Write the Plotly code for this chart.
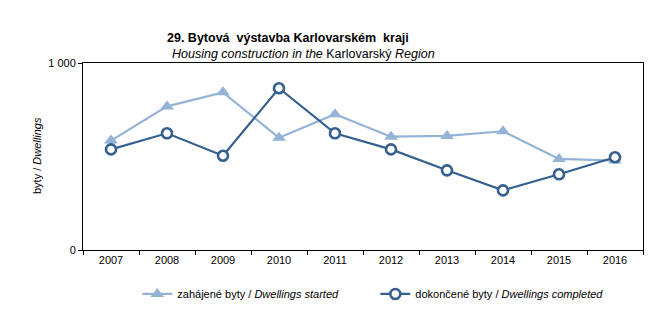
import plotly.graph_objects as go

# Housing construction in the Karlovarský Region, 2007–2016
years = ["2007", "2008", "2009", "2010", "2011", "2012", "2013", "2014", "2015", "2016"]
started = [585, 768, 843, 600, 726, 606, 610, 635, 487, 478]
completed = [538, 624, 504, 865, 624, 538, 426, 319, 405, 496]

y_tickvals = [0, 1000]
y_ticktext = ["0", "1 000"]

FONT = "Liberation Sans, Arial, sans-serif"
LIGHT = "#95B3D7"
DARK = "#35608F"

fig = go.Figure()
fig.add_trace(go.Scatter(
    x=years, y=started, mode="lines+markers",
    name="zahájené byty / <i>Dwellings started</i>",
    line=dict(color=LIGHT, width=2.2),
    marker=dict(symbol="triangle-up", size=12, color=LIGHT),
))
fig.add_trace(go.Scatter(
    x=years, y=completed, mode="lines+markers",
    name="dokončené byty / <i>Dwellings completed</i>",
    line=dict(color=DARK, width=2.2),
    marker=dict(symbol="circle", size=10, color="white",
                line=dict(color=DARK, width=2.6)),
))

fig.update_layout(
    width=667, height=325,
    margin=dict(l=83, r=24, t=63, b=75, autoexpand=False),
    paper_bgcolor="white", plot_bgcolor="white",
    font=dict(family=FONT, size=11, color="black"),
    showlegend=True,
    legend=dict(
        orientation="h", x=0.097, xanchor="left", y=-0.235, yanchor="middle",
        font=dict(family=FONT, size=11, color="black"),
        itemwidth=30, entrywidth=193, entrywidthmode="pixels",
        bgcolor="rgba(0,0,0,0)",
    ),
    xaxis=dict(
        type="category", tickson="boundaries", automargin=False,
        range=[-0.5, len(years) - 0.5],
        showline=True, linecolor="black", linewidth=1, mirror=True,
        ticks="outside", ticklen=4, tickcolor="black",
        showgrid=False, zeroline=False,
        tickfont=dict(family=FONT, size=11),
    ),
    yaxis=dict(
        range=[0, 1000], tickvals=y_tickvals, ticktext=y_ticktext, automargin=False,
        showline=True, linecolor="black", linewidth=1, mirror=True,
        ticks="outside", ticklen=4, tickcolor="black",
        showgrid=False, zeroline=False,
        tickfont=dict(family=FONT, size=11),
    ),
    annotations=[
        dict(text="<b>29. Bytová  výstavba Karlovarském  kraji</b>",
             xref="paper", yref="paper", x=(165 - 83) / 560, y=1 + (63 - 38) / 187,
             xanchor="left", yanchor="middle", showarrow=False,
             font=dict(family=FONT, size=12.5)),
        dict(text="<i>Housing construction in the</i> Karlovarský <i>Region</i>",
             xref="paper", yref="paper", x=(170 - 83) / 560, y=1 + (63 - 54) / 187,
             xanchor="left", yanchor="middle", showarrow=False,
             font=dict(family=FONT, size=12.5)),
        dict(text="byty / <i>Dwellings</i>", textangle=-90,
             xref="paper", yref="paper", x=(37 - 83) / 560, y=(250 - 156) / 187,
             xanchor="center", yanchor="middle", showarrow=False,
             font=dict(family=FONT, size=11)),
    ],
)

fig.write_html("out.html")
